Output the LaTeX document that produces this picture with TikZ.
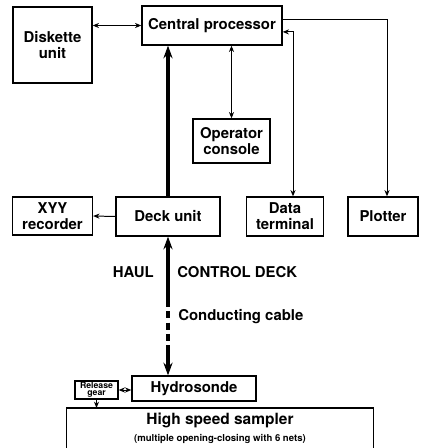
\documentclass[tikz,border=0pt]{standalone}
\usepackage{fontspec}
\setmainfont{TeX Gyre Heros}
\usetikzlibrary{arrows.meta}
\begin{document}
\begin{tikzpicture}[
        x=0.025cm, y=0.025cm,
        >={Stealth[length=4.5pt,width=3.6pt]},
        every node/.style={font=\fontsize{10.6}{11.5}\selectfont\bfseries},
        unitbox/.style={
            draw,
            line width=0.9pt,
            align=center,
            inner sep=0pt,
            minimum height=0.975cm
        },
        link/.style={line width=0.7pt},
        cable/.style={line width=2.4pt, -{Stealth[length=9pt,width=6.5pt]}}
    ]
        \useasboundingbox (0,0) rectangle (421,-448);

        \node[unitbox, minimum width=1.975cm, minimum height=1.9cm] (disk) at (52.5,-45) {Diskette\\unit};
        \node[unitbox, minimum width=3.5cm] (cpu) at (212,-25.5) {Central processor};
        \node[unitbox, minimum width=1.925cm, minimum height=1.1cm] (console) at (231.5,-141) {Operator\\console};
        \node[unitbox, minimum width=2.0cm, minimum height=0.95cm] (xyy) at (52.5,-216) {XYY\\recorder};
        \node[unitbox, minimum width=2.6cm] (deck) at (168,-216.5) {Deck unit};
        \node[unitbox, minimum width=1.925cm] (term) at (285,-216.5) {Data\\terminal};
        \node[unitbox, minimum width=1.75cm] (plot) at (383,-216.5) {Plotter};
        \node[unitbox, minimum width=3.1cm, minimum height=0.625cm] (sonde) at (194,-388.5) {Hydrosonde};
        \node[unitbox, minimum width=1.075cm, minimum height=0.45cm,
            font=\fontsize{6.2}{5}\selectfont\bfseries] (gear) at (96.5,-390) {Release\\gear};
        \node[align=center, inner sep=0pt, minimum width=7.65cm, minimum height=1.0cm, anchor=north] (sampler) at (220,-408)
            {\fontsize{11}{13}\selectfont High speed sampler\\\fontsize{6.8}{8}\selectfont(multiple opening-closing with 6 nets)};
        \draw[line width=0.9pt] (sampler.south west) -- (sampler.north west) -- (sampler.north east) -- (sampler.south east);

        \coordinate (cabletop) at (168,-300);
        \coordinate (cablelow) at (168,-345);

        \node[anchor=east, inner sep=0pt] (haul) at (154,-272) {HAUL};
        \node[anchor=west, inner sep=0pt] (ctrl) at (177,-272) {CONTROL DECK};
        \node[anchor=west, inner sep=0pt] (cond) at (178,-317) {Conducting cable};

        \draw[link, <->] (disk.east |- cpu.west) -- (cpu.west);
        \draw[link, <->] (cpu.south -| console.north) -- (console.north);
        \draw[link, ->] ([yshift=0.16cm]cpu.east) -| ([xshift=0.1cm]plot.north);
        \draw[link, <->] ([yshift=-0.16cm]cpu.east) -| ([xshift=0.2cm]term.north);
        \draw[link, ->] (deck.west) -- (xyy.east);
        \draw[cable] (deck.north) -- (cpu.south -| deck.north);
        \draw[cable] (cabletop) -- (deck.south);
        \draw[line width=2.4pt, dash pattern=on 5pt off 3pt] (cabletop) -- (cablelow);
        \draw[cable] (cablelow) -- (sonde.north -| deck.south);
        \draw[link, <->] (gear.east) -- (sonde.west |- gear.east);
        \draw[link, ->] (gear.south) -- (sampler.north -| gear.south);
    \end{tikzpicture}
\end{document}
